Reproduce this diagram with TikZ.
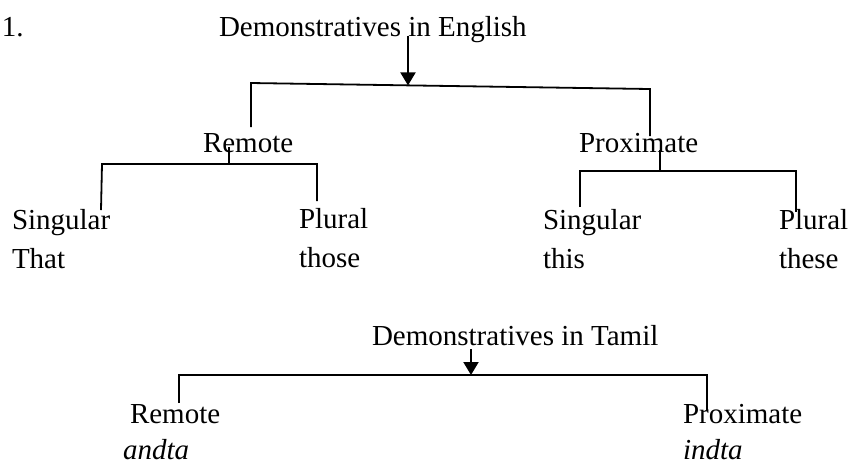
\documentclass[tikz,border=0pt]{standalone}
\usepackage{fontspec}
\setmainfont{Liberation Serif}
\newfontfamily\timesfont{Liberation Serif}
\usepackage{tikz}
\usetikzlibrary{arrows.meta, positioning}

\begin{document}
\begin{tikzpicture}[
  % ── Style definitions ──
  x=0.5pt, y=-0.5pt,
  word/.style={
    inner sep=0pt, outer sep=0pt, anchor=base west,
    font=\timesfont\fontsize{14.5}{17}\selectfont
  },
  iword/.style={word, font=\timesfont\fontsize{14.5}{17}\selectfont\itshape},
  tline/.style={line width=0.9pt, line join=miter},
  arr/.style={-{Triangle[width=7.5pt, length=6.5pt]}, line width=1pt}
]
\useasboundingbox (0,0) rectangle (849,463);

% ─────────── English tree ────────────────────────────────────
\node[word] (num)      at (2,36)    {1.};
\node[word] (engtitle) at (219,36)  {Demonstratives in English};
\node[word] (eremote)  at (203,152) {Remote};
\node[word] (eprox)    at (579,152) {Proximate};
\node[word] (esing)    at (12,229)  {Singular};
\node[word] (ethat)    at (12,268)  {That};
\node[word] (eplur)    at (299,228) {Plural};
\node[word] (ethose)   at (299,267) {those};
\node[word] (psing)    at (543,229) {Singular};
\node[word] (pthis)    at (543,268) {this};
\node[word] (pplur)    at (779,229) {Plural};
\node[word] (pthese)   at (779,268) {these};

% branch points
\coordinate (eArr)  at (408,36);
\coordinate (eJoin) at (408,85.4);
\coordinate (eL)    at (251,83);
\coordinate (eR)    at (650,89);
\coordinate (eLend) at (251,127);
\coordinate (eRend) at (650,136);

\coordinate (rTop)  at (229,147);
\coordinate (rMid)  at (229,164);
\coordinate (rL)    at (102,164);
\coordinate (rR)    at (317,164);
\coordinate (rLend) at (101,210);
\coordinate (rRend) at (317,201);

\coordinate (pTop)  at (660,150);
\coordinate (pMid)  at (660,171);
\coordinate (pL)    at (580,171);
\coordinate (pR)    at (796,171);
\coordinate (pLend) at (580,207);
\coordinate (pRend) at (796,212);

\draw[arr]   (eArr) -- (eJoin);
\draw[tline] (eLend) -- (eL) -- (eR) -- (eRend);
\draw[tline] (rTop) -- (rMid);
\draw[tline] (rLend) -- (rL) -- (rR) -- (rRend);
\draw[tline] (pTop) -- (pMid);
\draw[tline] (pLend) -- (pL) -- (pR) -- (pRend);

% ─────────── Tamil tree ──────────────────────────────────────
\node[word]  (tamtitle) at (372,345) {Demonstratives in Tamil};
\node[word]  (tremote)  at (130,423) {Remote};
\node[iword] (tandta)   at (123,459) {andta};
\node[word]  (tprox)    at (683,423) {Proximate};
\node[iword] (tindta)   at (683,459) {indta};

\coordinate (tArr)  at (471,349);
\coordinate (tJoin) at (471,375);
\coordinate (tL)    at (179,375);
\coordinate (tR)    at (707,375);
\coordinate (tLend) at (179,403);
\coordinate (tRend) at (707,410);

\draw[arr]   (tArr) -- (tJoin);
\draw[tline] (tLend) -- (tL) -- (tR) -- (tRend);
\end{tikzpicture}
\end{document}
